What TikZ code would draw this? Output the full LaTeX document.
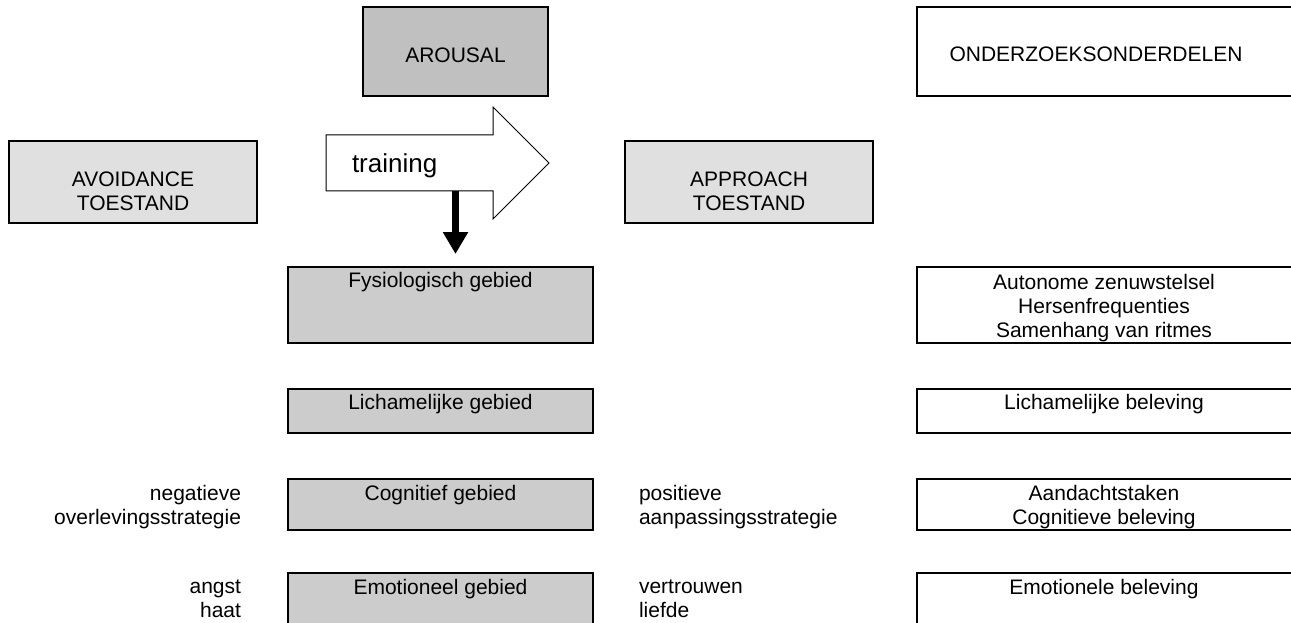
\documentclass[tikz,border=0pt]{standalone}
\usepackage{fontspec}
\setmainfont{Liberation Sans}
\usetikzlibrary{arrows.meta}
\definecolor{arousalgray}{HTML}{C0C0C0}
\definecolor{stategray}{HTML}{E0E0E0}
\definecolor{areagray}{HTML}{CCCCCC}
\begin{document}
\begin{tikzpicture}[x=1pt,y=-1pt,
  every node/.style={font=\fontsize{21}{24}\selectfont, inner sep=0pt, outer sep=0pt},
  box/.style={draw, line width=2pt, anchor=north west, minimum width=#1},
  box/.default=305,
  txt/.style={anchor=base},
  mtxt/.style={anchor=north, align=center},
  bigarrow/.style={draw, line width=1pt, fill=white, line join=miter},
  downarrow/.style={line width=7pt, -{Triangle[width=24pt,length=22pt]}}
]
\useasboundingbox (0,0) rectangle (1291,623);

% top boxes
\node[box=185, fill=arousalgray, minimum height=89] (arousal) at (363,7) {};
\node[txt] (arousaltxt) at (455.5,63) {AROUSAL};
\node[box=390, fill=white, minimum height=89] (onderzoek) at (917,7) {};
\node[txt] (onderzoektxt) at (1096,62) {ONDERZOEKSONDERDELEN};

% state boxes
\node[box=248, fill=stategray, minimum height=82] (avoid) at (9,141) {};
\node[mtxt] (avoidtxt) at (133,171.7) {AVOIDANCE\\TOESTAND};
\node[box=248, fill=stategray, minimum height=82] (approach) at (625,141) {};
\node[mtxt] (approachtxt) at (749,171.7) {APPROACH\\TOESTAND};

% training block arrow
\draw[bigarrow] (326,135) -- (493,135) -- (493,107) -- (549,163) -- (493,219) -- (493,191) -- (326,191) -- cycle;
\node[anchor=base west, font=\fontsize{26}{30}\selectfont] (training) at (352,172) {training};
\coordinate (dstart) at (455.5,191);
\coordinate (dend) at (455.5,254);
\draw[downarrow] (dstart) -- (dend);

% area boxes (left column)
\node[box, fill=areagray, minimum height=76] (fys) at (288,267) {};
\node[txt] (fystxt) at (440.5,287) {Fysiologisch gebied};
\node[box, fill=areagray, minimum height=44] (lich) at (288,389) {};
\node[txt] (lichtxt) at (440.5,409) {Lichamelijke gebied};
\node[box, fill=areagray, minimum height=51] (cogn) at (288,479) {};
\node[txt] (cogntxt) at (440.5,500) {Cognitief gebied};
\node[box, fill=areagray, minimum height=70] (emot) at (288,573) {};
\node[txt] (emottxt) at (440.5,594) {Emotioneel gebied};

% research boxes (right column)
\node[box=390, fill=white, minimum height=76] (auto) at (917,267) {};
\node[mtxt] (autotxt) at (1104,274) {Autonome zenuwstelsel\\Hersenfrequenties\\Samenhang van ritmes};
\node[box=390, fill=white, minimum height=44] (lichbel) at (917,389) {};
\node[txt] (lichbeltxt) at (1104,409) {Lichamelijke beleving};
\node[box=390, fill=white, minimum height=51] (aand) at (917,479) {};
\node[mtxt] (aandtxt) at (1104,485) {Aandachtstaken\\Cognitieve beleving};
\node[box=390, fill=white, minimum height=70] (emotbel) at (917,573) {};
\node[txt] (emotbeltxt) at (1104,594) {Emotionele beleving};

% side labels
\node[anchor=north east, align=right] (neg) at (241,485) {negatieve\\overlevingsstrategie};
\node[anchor=north east, align=right] (angst) at (241,580) {angst\\haat};
\node[anchor=north west, align=left] (pos) at (639,485) {positieve\\aanpassingsstrategie};
\node[anchor=north west, align=left] (vertr) at (639,580) {vertrouwen\\liefde};
\end{tikzpicture}
\end{document}
